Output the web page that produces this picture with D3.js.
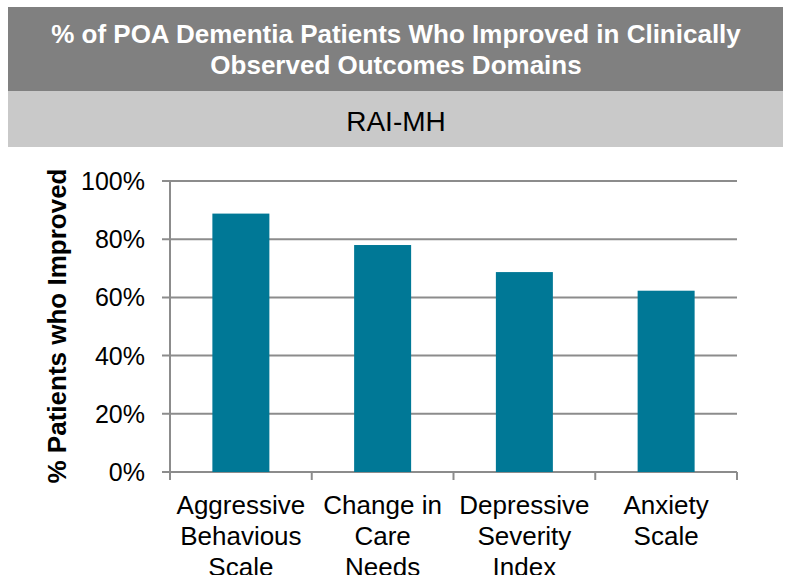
<!DOCTYPE html>
<html>
<head>
<meta charset="utf-8">
<script src="https://cdn.jsdelivr.net/npm/d3@7"></script>
<style>
  body { margin: 0; background: #fff; }
  svg { display: block; font-family: "Liberation Sans", Arial, sans-serif; }
</style>
</head>
<body>
<script>
const titleLines = ["% of POA Dementia Patients Who Improved in Clinically", "Observed Outcomes Domains"];
const subtitle = "RAI-MH";
const categories = [
  ["Aggressive", "Behavious", "Scale"],
  ["Change in", "Care", "Needs"],
  ["Depressive", "Severity", "Index"],
  ["Anxiety", "Scale"]
];
const values = [0.888, 0.78, 0.687, 0.623];
const yTicks = [0, 0.2, 0.4, 0.6, 0.8, 1.0];
const yTitle = "% Patients who Improved";

const width = 791, height = 575;
const svg = d3.select("body").append("svg")
    .attr("width", width)
    .attr("height", height);

// header bands
svg.append("rect").attr("x", 8).attr("y", 7).attr("width", 775).attr("height", 84).attr("fill", "#808080");
svg.append("rect").attr("x", 8).attr("y", 91).attr("width", 775).attr("height", 56).attr("fill", "#c9c9c9");

svg.append("g").selectAll("text")
  .data(titleLines)
  .join("text")
    .attr("x", 396)
    .attr("y", (d, i) => 43 + i * 31)
    .attr("text-anchor", "middle")
    .attr("fill", "#fff")
    .attr("font-weight", "bold")
    .attr("font-size", 26)
    .text(d => d);

svg.append("text")
    .attr("x", 396).attr("y", 131)
    .attr("text-anchor", "middle")
    .attr("font-size", 28)
    .text(subtitle);

const band = d3.scaleBand().domain(d3.range(categories.length)).range([170, 737]);
const y = d3.scaleLinear().domain([0, 1]).range([472, 181]);

// gridlines
svg.append("g").selectAll("line")
  .data(yTicks)
  .join("line")
    .attr("x1", 162).attr("x2", 737)
    .attr("y1", d => y(d)).attr("y2", d => y(d))
    .attr("stroke", "#8c8c8c").attr("stroke-width", 2);

// y labels
svg.append("g").selectAll("text")
  .data(yTicks)
  .join("text")
    .attr("x", 145)
    .attr("y", d => y(d) + 9)
    .attr("text-anchor", "end")
    .attr("font-size", 25)
    .text(d => d3.format(".0%")(d));

// bars
svg.append("g").selectAll("rect")
  .data(values)
  .join("rect")
    .attr("x", (d, i) => band(i) + (band.bandwidth() - 57) / 2)
    .attr("width", 57)
    .attr("y", d => y(d))
    .attr("height", d => y(0) - y(d))
    .attr("fill", "#007896");

// axes lines
svg.append("line").attr("x1", 170).attr("x2", 170).attr("y1", 181).attr("y2", 480)
  .attr("stroke", "#8c8c8c").attr("stroke-width", 2);
svg.append("g").selectAll("line")
  .data(d3.range(categories.length + 1))
  .join("line")
    .attr("x1", i => 170 + i * band.step()).attr("x2", i => 170 + i * band.step())
    .attr("y1", 472).attr("y2", 480)
    .attr("stroke", "#8c8c8c").attr("stroke-width", 2);

// category labels
const cat = svg.append("g").selectAll("text")
  .data(categories)
  .join("text")
    .attr("text-anchor", "middle")
    .attr("font-size", 26);
cat.selectAll("tspan")
  .data((d, i) => d.map(t => ({t, i})))
  .join("tspan")
    .attr("x", d => band(d.i) + band.bandwidth() / 2)
    .attr("y", (d, j) => 514 + j * 31)
    .text(d => d.t);

// y title
svg.append("text")
    .attr("transform", "translate(66,326) rotate(-90)")
    .attr("text-anchor", "middle")
    .attr("font-weight", "bold")
    .attr("font-size", 26)
    .text(yTitle);
</script>
</body>
</html>
